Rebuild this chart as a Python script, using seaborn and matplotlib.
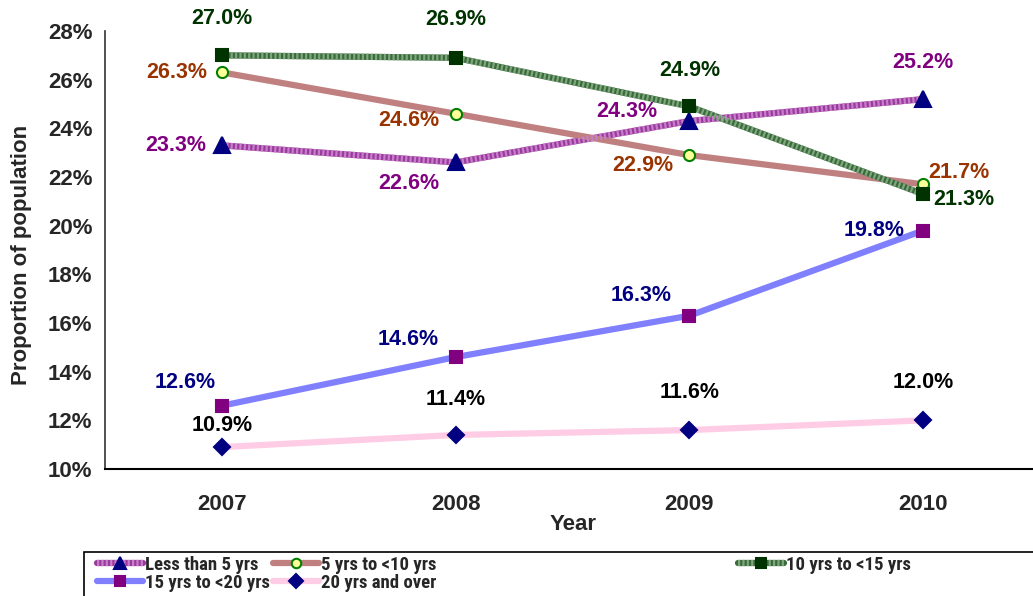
import numpy as np
import pandas as pd
import matplotlib
matplotlib.use("Agg")
import matplotlib.pyplot as plt
from matplotlib.lines import Line2D
from matplotlib.patches import Rectangle
import seaborn as sns

years = ["2007", "2008", "2009", "2010"]
less5 = [23.3, 22.6, 24.3, 25.2]
y5to10 = [26.3, 24.6, 22.9, 21.7]
y10to15 = [27.0, 26.9, 24.9, 21.3]
y15to20 = [12.6, 14.6, 16.3, 19.8]
y20plus = [10.9, 11.4, 11.6, 12.0]
series_names = ["Less than 5 yrs", "5 yrs to <10 yrs", "10 yrs to <15 yrs",
                "15 yrs to <20 yrs", "20 yrs and over"]
series_vals = [less5, y5to10, y10to15, y15to20, y20plus]
yticks = [10, 12, 14, 16, 18, 20, 22, 24, 26, 28]

sns.set_style("white")
plt.rcParams["font.family"] = ["Liberation Sans", "DejaVu Sans"]
plt.rcParams["font.weight"] = "bold"

W, H = 1033, 596
fig = plt.figure(figsize=(W / 100, H / 100), dpi=100)
ax = fig.add_axes([105 / W, 1 - 469 / H, (1040 - 105) / W, (469 - 31) / H])

styles = [
    dict(line="#9b3a9e", stripe="#c77fc9", marker="^", mfc="#000080", mec="#000080", ms=11, lab="#800080"),
    dict(line="#c08080", stripe=None, marker="o", mfc="#ffff99", mec="#008000", ms=8, lab="#993300"),
    dict(line="#3a6b3a", stripe="#7fa67f", marker="s", mfc="#003300", mec="#003300", ms=9, lab="#003300"),
    dict(line="#8080ff", stripe=None, marker="s", mfc="#800080", mec="#800080", ms=9, lab="#000080"),
    dict(line="#ffcce6", stripe=None, marker="D", mfc="#000080", mec="#000080", ms=8, lab="#000000"),
]

# label offsets in pixels (dx, dy up)
offsets = [
    [(-46, 0), (-47, -21), (-63, 10), (0, 37)],
    [(-45, 0), (-47, -7), (-47, -10), (36, 12)],
    [(0, 37), (0, 38), (0, 36), (41, -5)],
    [(-37, 23), (-47, 18), (-48, 20), (-49, 0)],
    [(0, 22), (0, 35), (0, 38), (0, 38)],
]

xpos = np.arange(len(years))
handles = []
for name, vals, st, offs in zip(series_names, series_vals, styles, offsets):
    df = pd.DataFrame({"x": xpos, "y": vals})
    sns.lineplot(data=df, x="x", y="y", ax=ax, color=st["line"], lw=4.5,
                 legend=False, zorder=2, solid_capstyle="butt")
    parts = [Line2D([], [], color=st["line"], lw=4.5)]
    if st["stripe"]:
        sns.lineplot(data=df, x="x", y="y", ax=ax, color=st["stripe"], lw=4.5,
                     linestyle=(0, (0.35, 0.35)), legend=False, zorder=2.1)
        parts.append(Line2D([], [], color=st["stripe"], lw=4.5, linestyle=(0, (0.35, 0.35))))
    sns.lineplot(data=df, x="x", y="y", ax=ax, linestyle="none", marker=st["marker"],
                 markersize=st["ms"], markerfacecolor=st["mfc"], markeredgecolor=st["mec"],
                 markeredgewidth=1.5, legend=False, zorder=3)
    parts.append(Line2D([], [], linestyle="none", marker=st["marker"], markersize=st["ms"] * 0.85,
                        markerfacecolor=st["mfc"], markeredgecolor=st["mec"], markeredgewidth=1.5))
    handles.append(tuple(parts))
    for xi, v, (dx, dy) in zip(xpos, vals, offs):
        ax.annotate(f"{v:.1f}%", (xi, v), xytext=(dx, dy), textcoords="offset pixels",
                    ha="center", va="center", fontsize=15.5, fontweight="bold",
                    color=st["lab"], zorder=4)

ax.set_xlim(-0.5, 3.5)
ax.set_ylim(10, 28)
ax.set_yticks(yticks)
ax.set_yticklabels([f"{t}%" for t in yticks], fontsize=16, fontweight="bold")
ax.set_xticks(xpos)
ax.set_xticklabels(years, fontsize=16, fontweight="bold")
ax.set_xticks(np.arange(-0.5, 4.0, 1.0), minor=True)
ax.tick_params(axis="x", which="major", length=0, pad=18)
ax.tick_params(axis="x", which="minor", length=5, direction="out", color="#808080")
ax.tick_params(axis="y", which="major", length=5, direction="out", color="#333333", pad=4)
for s in ["top", "right"]:
    ax.spines[s].set_visible(False)
ax.spines["left"].set_color("#333333")
ax.spines["bottom"].set_color("black")
ax.spines["left"].set_linewidth(1.2)
ax.spines["bottom"].set_linewidth(1.5)
ax.set_xlabel("")
ax.set_ylabel("")

fig.text(573 / W, 1 - 525 / H, "Year", ha="center", va="center", fontsize=16, fontweight="bold")
fig.text(22 / W, 1 - 255 / H, "Proportion of population", ha="center", va="center",
         rotation=90, fontsize=16, fontweight="bold")

# legend frame
fig.patches.append(Rectangle((84 / W, -0.05), (1040 - 84) / W, 0.05 + (596 - 552) / H,
                             transform=fig.transFigure, fill=False, edgecolor="black",
                             linewidth=1.2))
legend_font = dict(family=["Liberation Sans Narrow", "Roboto Condensed", "Archivo Narrow",
                           "IBM Plex Sans Condensed", "Liberation Sans"],
                   weight="bold", size=13.5)
cols = [([0, 3], 97), ([1, 4], 273), ([2], 738)]
for idx, xleft in cols:
    leg = fig.legend([handles[i] for i in idx], [series_names[i] for i in idx],
                     loc="upper left", bbox_to_anchor=(xleft / W, 1 - 556 / H),
                     frameon=False, prop=legend_font, handlelength=2.45, handletextpad=0.12,
                     labelspacing=0.0, borderaxespad=0, borderpad=0)

fig.savefig("out.png", dpi=100)
